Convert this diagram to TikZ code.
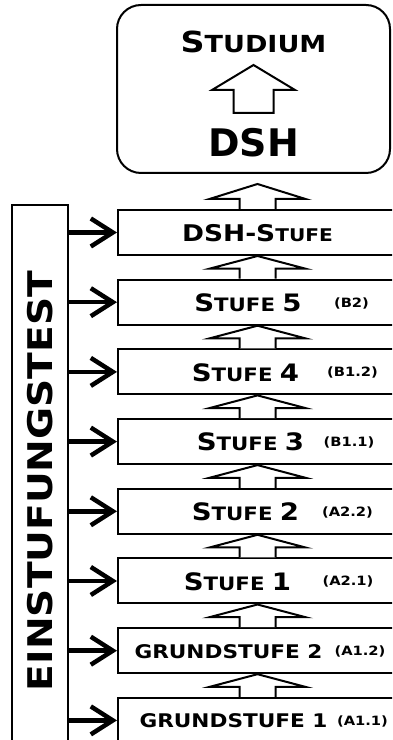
\documentclass[tikz,border=0pt]{standalone}
\usepackage{fontspec}
\setmainfont{DejaVu Sans}[FakeStretch=1.15]
\newfontfamily\dshfont{DejaVu Sans}
\usepackage{tikz}
\usetikzlibrary{arrows.meta}
\tikzset{kasten/.style={rectangle,draw,line width=2pt,fill=white,minimum width=279pt,minimum height=45pt,inner sep=0pt},
  zielbox/.style={rectangle,draw,line width=2pt,rounded corners=24pt,minimum width=273pt,minimum height=168pt},
  balken/.style={rectangle,draw,line width=2pt,minimum width=56pt,minimum height=552pt},
  hohl/.style={draw,line width=2pt,fill=white,line join=miter},
  pfeil/.style={line width=4.5pt,-{Straight Barb[length=22pt,width=28pt]}},
  txt/.style={anchor=base,inner sep=0pt,font=\bfseries}}
\newcommand\gross{\fontsize{24}{26}\selectfont}
\newcommand\klein{\fontsize{18.5}{20}\selectfont}
\newcommand\grund{\fontsize{18.8}{20}\selectfont}
\newcommand\niveau{\fontsize{12.8}{14}\selectfont}
\newcommand\stufenpfeil[2]{\draw[hohl] ([xshift=-18pt]#1.north) -- ++(0,10) -- ++(-30,0) -- (#2) -- ([xshift=48pt,yshift=10pt]#1.north) -- ++(-30,0) -- ++(0,-10);}

\begin{document}
\begin{tikzpicture}[x=1pt,y=1pt]
    \clip (0,0) rectangle (392,740);
    \fill[white] (0,0) rectangle (392,740);

    \node[zielbox] (ziel) at (253.5,651) {};
    \node[txt] (studium) at (253.5,687.5) {\fontsize{29}{30}\selectfont S\fontsize{23.5}{25}\selectfont TUDIUM};
    \node[txt] (dsh) at (253.5,583) {\dshfont\bfseries\fontsize{38}{40}\selectfont DSH};
    \draw[hohl] (253.5,675) -- ++(-41.5,-25) -- ++(21.5,0) -- ++(0,-23) -- ++(40,0) -- ++(0,23) -- ++(21.5,0) -- cycle;

    \node[balken] (test) at (40,259) {};
    \node[txt,anchor=center,rotate=90] (einst) at (40.5,259) {\fontsize{34}{36}\selectfont EINSTUFUNGSTEST};

    \node[kasten] (dshst) at (257.5,507.5) {};
    \node[kasten] (s5) at (257.5,437.8) {};
    \node[kasten] (s4) at (257.5,368.1) {};
    \node[kasten] (s3) at (257.5,298.4) {};
    \node[kasten] (s2) at (257.5,228.7) {};
    \node[kasten] (s1) at (257.5,159.0) {};
    \node[kasten] (g2) at (257.5,89.3) {};
    \node[kasten] (g1) at (257.5,19.6) {};

    \node[txt] (tdsh) at (257.5,498.8) {\fontsize{23}{25}\selectfont DSH-S\fontsize{17.5}{19}\selectfont TUFE};
    \node[txt] (t5) at (248,428.5) {\gross S\klein TUFE \gross 5};
    \node[txt] (n5) at (351.5,432.9) {\niveau (B2)};
    \node[txt] (t4) at (245.5,358.8) {\gross S\klein TUFE \gross 4};
    \node[txt] (n4) at (352.5,363.2) {\niveau (B1.2)};
    \node[txt] (t3) at (250.5,289.1) {\gross S\klein TUFE \gross 3};
    \node[txt] (n3) at (349,293.5) {\niveau (B1.1)};
    \node[txt] (t2) at (245.5,219.4) {\gross S\klein TUFE \gross 2};
    \node[txt] (n2) at (347.5,223.8) {\niveau (A2.2)};
    \node[txt] (t1) at (237.5,149.7) {\gross S\klein TUFE \gross 1};
    \node[txt] (n1) at (348,154.1) {\niveau (A2.1)};
    \node[txt] (tg2) at (228.5,81.95) {\grund GRUNDSTUFE 2};
    \node[txt] (ng2) at (360,84.4) {\niveau (A1.2)};
    \node[txt] (tg1) at (233.5,12.25) {\grund GRUNDSTUFE 1};
    \node[txt] (ng1) at (362.5,14.7) {\niveau (A1.1)};

    \coordinate (spitze) at (257.5,556);
    \stufenpfeil{dshst}{spitze}
    \stufenpfeil{s5}{dshst.south}
    \stufenpfeil{s4}{s5.south}
    \stufenpfeil{s3}{s4.south}
    \stufenpfeil{s2}{s3.south}
    \stufenpfeil{s1}{s2.south}
    \stufenpfeil{g2}{s1.south}
    \stufenpfeil{g1}{g2.south}

    \draw[pfeil] (test.east |- dshst.west) -- (dshst.west);
    \draw[pfeil] (test.east |- s5.west) -- (s5.west);
    \draw[pfeil] (test.east |- s4.west) -- (s4.west);
    \draw[pfeil] (test.east |- s3.west) -- (s3.west);
    \draw[pfeil] (test.east |- s2.west) -- (s2.west);
    \draw[pfeil] (test.east |- s1.west) -- (s1.west);
    \draw[pfeil] (test.east |- g2.west) -- (g2.west);
    \draw[pfeil] (test.east |- g1.west) -- (g1.west);
\end{tikzpicture}
\end{document}
